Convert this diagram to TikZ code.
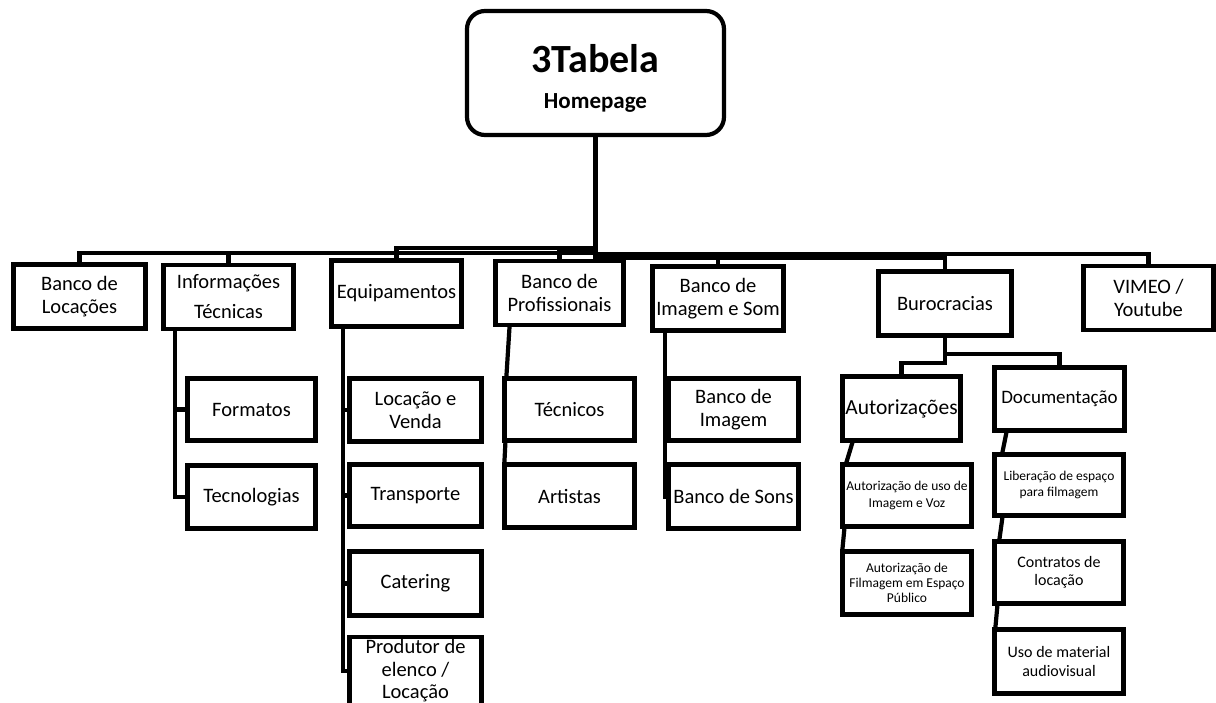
\documentclass[tikz,border=0pt]{standalone}
\usepackage{fontspec}
\setmainfont{Carlito}
\usetikzlibrary{positioning, calc}

\newcommand\catfont{\fontsize{20.5}{23}\selectfont}
\newcommand\autfont{\fontsize{21.5}{25}\selectfont}
\newcommand\docfont{\fontsize{19}{22}\selectfont}
\newcommand\midfont{\fontsize{16}{17.5}\selectfont}
\newcommand\tinyfont{\fontsize{13.5}{16.5}\selectfont}

\begin{document}
\begin{tikzpicture}[
  x=1pt, y=-1pt,
  home/.style={rectangle, rounded corners=18pt, draw, line width=4.2pt,
               minimum width=257pt, minimum height=124pt, align=center,
               inner sep=2pt},
  cat/.style={rectangle, draw, line width=4.2pt, minimum width=130pt,
              minimum height=64pt, align=center, inner sep=1pt, font=\catfont},
  link/.style={line width=4.2pt}
]
  \useasboundingbox (0,0) rectangle (1216,702);

  % homepage
  \node[home, font=\fontsize{23}{36}\selectfont\bfseries] (root) at (595.5,73)
    {\rule{0pt}{39pt}{\fontsize{40}{36}\selectfont 3Tabela}\\Homepage};

  % first level
  \node[cat, minimum width=132pt] (locacoes) at (79.5,296.5) {Banco de\\Locações};
  \node[cat, font=\fontsize{20.5}{30}\selectfont] (info) at (228.5,297) {Informações\\Técnicas};
  \node[cat, minimum height=66pt] (equip) at (396.5,293.5) {Equipamentos};
  \node[cat, minimum width=128pt] (prof) at (559.5,293) {Banco de\\Profissionais};
  \node[cat, minimum width=131pt] (imgsom) at (718,298.5) {Banco de\\Imagem e Som};
  \node[cat, minimum width=133pt] (buro) at (945,303.5) {Burocracias};
  \node[cat] (vimeo) at (1148.5,298) {VIMEO /\\Youtube};

  % Informacoes Tecnicas
  \node[cat, minimum width=128pt, minimum height=62pt] (formatos) at (251.5,409.5) {Formatos};
  \node[cat, minimum width=128pt, minimum height=63pt] (tecno) at (251.5,497) {Tecnologias};

  % Equipamentos
  \node[cat, minimum width=132pt, minimum height=63pt] (locvenda) at (415.5,410) {Locação e\\Venda};
  \node[cat, minimum width=132pt, minimum height=62pt] (transp) at (415.5,495.5) {Transporte};
  \node[cat, minimum width=132pt] (catering) at (415.5,583.5) {Catering};
  \node[cat, minimum width=132pt, minimum height=68pt, font=\fontsize{20.5}{22.5}\selectfont]
    (produtor) at (415.5,671) {Produtor de\\elenco /\\Locação};

  % Banco de Profissionais
  \node[cat, minimum height=62pt] (tecnicos) at (569.5,409.5) {Técnicos};
  \node[cat, minimum height=63pt] (artistas) at (569.5,496) {Artistas};

  % Banco de Imagem e Som
  \node[cat, minimum height=62pt] (bimg) at (733.5,409.5) {Banco de\\Imagem};
  \node[cat] (bsons) at (733.5,496.5) {Banco de Sons};

  % Burocracias
  \node[cat, minimum width=118pt, font=\autfont] (autor) at (901.5,408.5) {Autorizações};
  \node[cat, minimum width=129pt, minimum height=62pt, font=\tinyfont]
    (autuso) at (907,495.5) {Autorização de uso de\\Imagem e Voz};
  \node[cat, minimum width=129pt, minimum height=63pt, font=\fontsize{13.5}{14.8}\selectfont]
    (autfilm) at (907,583) {Autorização de\\Filmagem em Espaço\\Público};
  \node[cat, minimum height=63pt, font=\docfont] (docum) at (1059.5,399) {Documentação};
  \node[cat, minimum width=129pt, minimum height=61pt, font=\tinyfont]
    (liber) at (1059,485) {Liberação de espaço\\para filmagem};
  \node[cat, minimum width=129pt, minimum height=62pt, font=\midfont]
    (contr) at (1059,572.5) {Contratos de\\locação};
  \node[cat, minimum width=129pt, font=\fontsize{16}{19}\selectfont]
    (usomat) at (1059,661.5) {Uso de material\\audiovisual};

  % links from the homepage
  \draw[link] (root.south) -- ++(0,115.5) -| (locacoes.north);
  \draw[link] (root.south) -- ++(0,115.5) -| (info.north);
  \draw[link] (root.south) -- ++(0,110.5) -| (equip.north);
  \draw[link] (root.south) -- ++(0,113.5) -| (prof.north);
  \draw[link] (root.south) -- ++(0,117.5) -| (imgsom.north);
  \draw[link] (root.south) -- ++(0,120.5) -| (buro.north);
  \draw[link] (root.south) -- ++(0,116.5) -| (vimeo.north);

  % columns
  \draw[link] ([xshift=-53.5pt]info.south) |- (formatos.west);
  \draw[link] ([xshift=-53.5pt]info.south) |- (tecno.west);
  \draw[link] ([xshift=-53.5pt]equip.south) |- (locvenda.west);
  \draw[link] ([xshift=-53.5pt]equip.south) |- (transp.west);
  \draw[link] ([xshift=-53.5pt]equip.south) |- (catering.west);
  \draw[link] ([xshift=-53.5pt]equip.south) |- (produtor.west);
  \draw[link] ([xshift=-50pt]prof.south) -- ([xshift=4pt]tecnicos.north west);
  \draw[link] ([xshift=3pt]tecnicos.south west) -- ([xshift=2pt]artistas.north west);
  \draw[link] ([xshift=-53pt]imgsom.south) |- (bimg.west);
  \draw[link] ([xshift=-53pt]imgsom.south) |- (bsons.west);
  \draw[link] (buro.south) -- ++(0,16) -| (docum.north);
  \draw[link] (buro.south) -- ++(0,25) -| (autor.north);
  \draw[link] ([xshift=12pt]autor.south west) -- ([xshift=6pt]autuso.north west);
  \draw[link] ([xshift=4pt]autuso.south west) -- ([xshift=2pt]autfilm.north west);
  \draw[link] ([xshift=14pt]docum.south west) -- ([xshift=10pt]liber.north west);
  \draw[link] ([xshift=10pt]liber.south west) -- ([xshift=7pt]contr.north west);
  \draw[link] ([xshift=5pt]contr.south west) -- ([xshift=3pt]usomat.north west);
\end{tikzpicture}
\end{document}
